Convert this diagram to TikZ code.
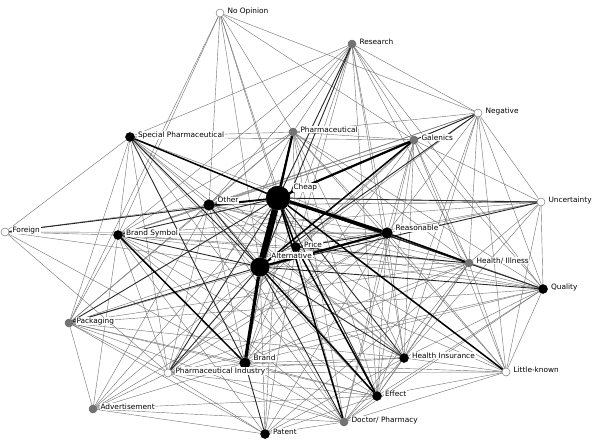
\documentclass[tikz,border=0pt]{standalone}
\usepackage{fontspec}
\newfontfamily\netfont{DejaVu Sans}
\usepackage{tikz}
\pgfdeclarelayer{background}
\pgfsetlayers{background,main}

\begin{document}
\begin{tikzpicture}[x=0.03cm, y=-0.03cm,
    vtx/.style={circle, inner sep=0pt, minimum size=0.24cm, draw=black},
    blk/.style={vtx, fill=black},
    gry/.style={vtx, fill=black!55, draw=black!60},
    wht/.style={vtx, fill=white, draw=black!55},
    lbl/.style={anchor=base west, font=\netfont\fontsize{6.3}{7}\selectfont, inner sep=0.6pt, fill=white},
    label distance=0.07cm,
    e1/.style={draw=black!55, line width=0.35pt},
    e2/.style={draw=black!85, line width=0.75pt},
    e3/.style={draw=black, line width=1.3pt},
    e4/.style={draw=black, line width=1.9pt},
    e5/.style={draw=black, line width=2.8pt},
    e6/.style={draw=black, line width=5.5pt}
]
\useasboundingbox (0,0) rectangle (597,440);

\node (noop) [wht] at (220,13) [label={[lbl]0:No Opinion}] {};
\node (res) [gry] at (352,44) [label={[lbl]0:Research}] {};
\node (neg) [wht] at (478,113) [label={[lbl]0:Negative}] {};
\node (spec) [blk, minimum size=0.27cm] at (130,137) [label={[lbl]0:Special Pharmaceutical}] {};
\node (pharm) [gry] at (293,132) [label={[lbl]0:Pharmaceutical}] {};
\node (gal) [gry] at (414,140) [label={[lbl]0:Galenics}] {};
\node (cheap) [blk, minimum size=0.72cm] at (278,198) [label={[lbl, xshift=0.08cm]35:Cheap}] {};
\node (other) [blk, minimum size=0.32cm] at (209,205) [label={[lbl]15:Other}] {};
\node (unc) [wht] at (541,202) [label={[lbl]0:Uncertainty}] {};
\node (foreign) [wht] at (5,232) [label={[lbl]0:Foreign}] {};
\node (bsym) [blk, minimum size=0.27cm] at (118,235) [label={[lbl]0:Brand Symbol}] {};
\node (reas) [blk, minimum size=0.32cm] at (387,233) [label={[lbl]15:Reasonable}] {};
\node (price) [blk, minimum size=0.27cm] at (296,247) [label={[lbl]0:Price}] {};
\node (alt) [blk, minimum size=0.56cm] at (260,267) [label={[lbl, xshift=0.06cm]45:Alternative}] {};
\node (hill) [gry] at (469,263) [label={[lbl]0:Health/ Illness}] {};
\node (qual) [blk, minimum size=0.27cm] at (543,289) [label={[lbl]0:Quality}] {};
\node (pack) [gry] at (69,323) [label={[lbl]0:Packaging}] {};
\node (hins) [blk, minimum size=0.27cm] at (404,358) [label={[lbl]0:Health Insurance}] {};
\node (brand) [blk, minimum size=0.32cm] at (245,363) [label={[lbl]15:Brand}] {};
\node (pind) [wht] at (168,373) [label={[lbl]0:Pharmaceutical Industry}] {};
\node (lk) [wht] at (506,372) [label={[lbl]0:Little-known}] {};
\node (eff) [blk, minimum size=0.27cm] at (377,396) [label={[lbl]0:Effect}] {};
\node (adv) [gry] at (93,409) [label={[lbl]0:Advertisement}] {};
\node (doc) [gry] at (344,422) [label={[lbl]0:Doctor/ Pharmacy}] {};
\node (pat) [blk, minimum size=0.27cm] at (265,434) [label={[lbl]0:Patent}] {};

\begin{pgfonlayer}{background}
\fill [white] (0,0) rectangle (597,440);

\path [e1] (noop) edge (neg) edge (gal) edge (pharm) edge (cheap) edge (alt) edge (price) edge (bsym) edge (pack) edge (other);
\path [e1] (res) edge (pharm) edge (gal) edge (neg) edge (spec) edge (other) edge (price) edge (reas) edge (hill) edge (eff) edge (hins) edge (bsym) edge (qual) edge (brand);
\path [e1] (neg) edge (pharm) edge (gal) edge (unc) edge (other) edge (bsym) edge (hill) edge (qual) edge (hins) edge (eff) edge (lk) edge (reas) edge (price);
\path [e1] (spec) edge (pharm) edge (gal) edge (other) edge (foreign) edge (bsym) edge (price) edge (reas) edge (pind) edge (pack) edge (hins) edge (eff) edge (doc);
\path [e1] (pharm) edge (gal) edge (other) edge (bsym) edge (reas) edge (price) edge (hill) edge (qual) edge (hins) edge (eff) edge (doc) edge (brand) edge (pind) edge (pack) edge (lk);
\path [e1] (gal) edge (other) edge (unc) edge (bsym) edge (reas) edge (price) edge (hill) edge (qual) edge (hins) edge (eff) edge (doc) edge (lk) edge (brand) edge (pind);
\path [e1] (cheap) edge (foreign) edge (hill) edge (qual) edge (brand) edge (pat) edge (adv) edge (unc);
\path [e1] (other) edge (bsym) edge (foreign) edge (reas) edge (price) edge (hill) edge (qual) edge (unc) edge (brand) edge (pind) edge (pack) edge (eff) edge (doc) edge (hins) edge (adv);
\path [e1] (unc) edge (reas) edge (price) edge (hill) edge (qual) edge (hins) edge (lk) edge (bsym) edge (other);
\path [e1] (foreign) edge (bsym) edge (alt) edge (brand) edge (pind) edge (reas);
\path [e1] (bsym) edge (reas) edge (price) edge (hill) edge (qual) edge (pack) edge (pind) edge (adv) edge (eff) edge (doc) edge (hins) edge (pat);
\path [e1] (reas) edge (qual) edge (hins) edge (brand) edge (pind) edge (lk) edge (eff) edge (doc) edge (pat) edge (pack) edge (adv);
\path [e1] (price) edge (qual) edge (hins) edge (brand) edge (pind) edge (lk) edge (doc) edge (pat) edge (pack);
\path [e1] (alt) edge (hill) edge (lk) edge (pat) edge (adv);
\path [e1] (hill) edge (qual) edge (hins) edge (brand) edge (lk) edge (eff) edge (doc) edge (pind) edge (pack) edge (pat);
\path [e1] (qual) edge (hins) edge (lk) edge (brand) edge (eff) edge (doc) edge (pind) edge (pack);
\path [e1] (pack) edge (pind) edge (adv) edge (brand) edge (eff) edge (doc) edge (pat) edge (hins);
\path [e1] (hins) edge (brand) edge (lk) edge (eff) edge (doc) edge (pind) edge (pat);
\path [e1] (brand) edge (pind) edge (lk) edge (eff) edge (doc) edge (adv);
\path [e1] (pind) edge (adv) edge (eff) edge (doc) edge (pat) edge (lk);
\path [e1] (lk) edge (eff) edge (doc);
\path [e1] (eff) edge (doc) edge (pat) edge (adv);
\path [e1] (adv) edge (doc) edge (pat);
\path [e1] (doc) edge (pat);

\path [e2] (spec) edge (alt) edge (brand);
\path [e2] (pack) edge (cheap) edge (alt);
\path [e2] (pind) edge (cheap) edge (alt);
\path [e2] (unc) edge (cheap) edge (alt);
\path [e2] (res) edge (cheap) edge (alt);
\path [e2] (neg) edge (cheap) edge (alt);
\path [e2] (qual) edge (cheap) edge (alt);
\path [e2] (hins) edge (cheap) edge (alt);
\path [e2] (bsym) edge (cheap) edge (alt);
\path [e2] (hill) edge (cheap) edge (price);
\path [e2] (brand) edge (pat);
\path [e2] (reas) edge (price);
\path [e2] (foreign) edge (cheap);
\path [e2] (other) edge (alt);
\path [e2] (pharm) edge (alt);
\path [e2] (doc) edge (alt);
\path [e2] (eff) edge (cheap);

\path [e3] (cheap) edge (other) edge (price) edge (lk) edge (spec) edge (doc);
\path [e3] (reas) edge (hill);
\path [e3] (bsym) edge (brand);
\path [e3] (gal) edge (alt);
\path [e3] (alt) edge (eff);
\path [e3] (price) edge (eff);

\path [e4] (cheap) edge (pharm) edge (gal);
\path [e4] (alt) edge (reas);
\path [e5] (cheap) edge (reas);
\path [e5] (alt) edge (brand);
\path [e6] (cheap) edge (alt);
\end{pgfonlayer}

\end{tikzpicture}
\end{document}
